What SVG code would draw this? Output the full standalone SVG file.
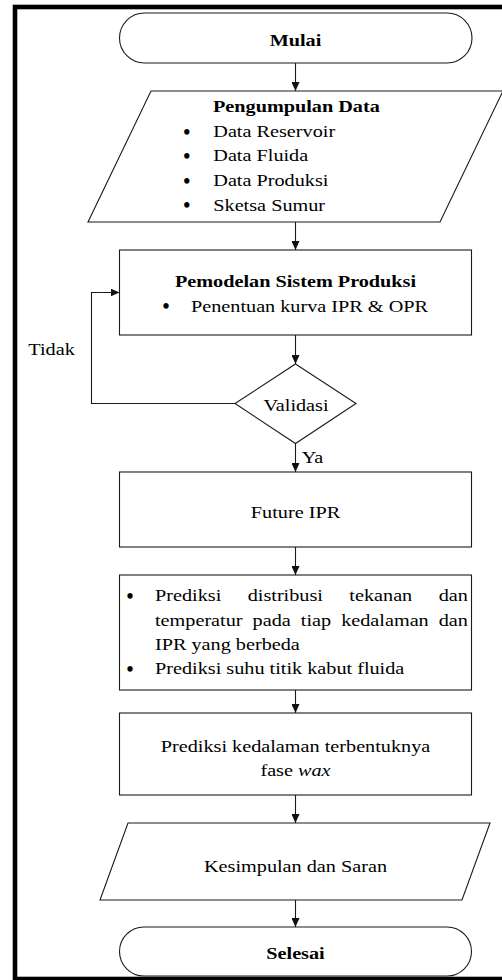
<svg xmlns="http://www.w3.org/2000/svg" width="502" height="980" viewBox="0 0 502 980">
<style>
.s{fill:#fff;stroke:#1a1a1a;stroke-width:1.1}
.c{fill:none;stroke:#1a1a1a;stroke-width:1.1}
text{font-family:'Liberation Serif','Times New Roman',serif;fill:#000}
.t{font-size:17px}
.b{font-weight:bold}
.m{text-anchor:middle}
.bu{font-size:20px;font-weight:bold;text-anchor:middle}
</style>
<defs>
<marker id="ah" markerUnits="userSpaceOnUse" markerWidth="9" markerHeight="8" refX="9" refY="4" orient="auto">
<path d="M0,0 L9,4 L0,8 z" fill="#111"/>
</marker>
</defs>
<rect x="15" y="7" width="495" height="972" fill="#fff" stroke="#000" stroke-width="4.6"/>

<g id="connectors">
<line class="c" x1="295.5" y1="63" x2="295.5" y2="91" marker-end="url(#ah)"/>
<line class="c" x1="295.5" y1="222" x2="295.5" y2="250" marker-end="url(#ah)"/>
<line class="c" x1="295.5" y1="335" x2="295.5" y2="364" marker-end="url(#ah)"/>
<line class="c" x1="295.5" y1="443.5" x2="295.5" y2="472" marker-end="url(#ah)"/>
<line class="c" x1="295.5" y1="547" x2="295.5" y2="575" marker-end="url(#ah)"/>
<line class="c" x1="295.5" y1="690" x2="295.5" y2="713" marker-end="url(#ah)"/>
<line class="c" x1="295.5" y1="795" x2="295.5" y2="823" marker-end="url(#ah)"/>
<line class="c" x1="295.5" y1="900" x2="295.5" y2="927" marker-end="url(#ah)"/>
<polyline class="c" points="235,403.5 91.5,403.5 91.5,292.5 119.5,292.5" marker-end="url(#ah)"/>
<text class="t" transform="translate(28.3,355) scale(1.19,1)">Tidak</text>
<text class="t" transform="translate(301.7,463) scale(1.19,1)">Ya</text>
</g>

<g id="mulai">
<rect class="s" x="119.5" y="13" width="352.5" height="50" rx="25" ry="25"/>
<text class="t b m" transform="translate(295.5,46) scale(1.19,1)">Mulai</text>
</g>

<g id="pengumpulan">
<polygon class="s" points="151,91 503,91 440,222 88,222"/>
<text class="t b" transform="translate(213,112) scale(1.19,1)">Pengumpulan Data</text>
<text class="bu" x="186.7" y="138.5">•</text>
<text class="t" transform="translate(213.3,136.7) scale(1.19,1)">Data Reservoir</text>
<text class="bu" x="186.7" y="163">•</text>
<text class="t" transform="translate(213.3,161.3) scale(1.19,1)">Data Fluida</text>
<text class="bu" x="186.7" y="187.7">•</text>
<text class="t" transform="translate(213.3,186) scale(1.19,1)">Data Produksi</text>
<text class="bu" x="186.7" y="212.4">•</text>
<text class="t" transform="translate(213.3,210.7) scale(1.19,1)">Sketsa Sumur</text>
</g>

<g id="pemodelan">
<rect class="s" x="119.5" y="250" width="352" height="85"/>
<text class="t b m" transform="translate(295.5,286.7) scale(1.19,1)">Pemodelan Sistem Produksi</text>
<text class="bu" x="166" y="313.4">•</text>
<text class="t" transform="translate(191,311.7) scale(1.19,1)">Penentuan kurva IPR &amp; OPR</text>
</g>

<g id="validasi">
<polygon class="s" points="295.5,364 356,403.5 295.5,443.5 235,403.5"/>
<text class="t m" transform="translate(296,411) scale(1.19,1)">Validasi</text>
</g>

<g id="future">
<rect class="s" x="119.5" y="472" width="352" height="75"/>
<text class="t m" transform="translate(295.5,518) scale(1.19,1)">Future IPR</text>
</g>

<g id="prediksi">
<rect class="s" x="119.5" y="575" width="352" height="115"/>
<text class="bu" x="130" y="602.7">•</text>
<text class="t" transform="translate(0,601) scale(1.19,1)"><tspan x="130.25">Prediksi</tspan><tspan x="208.15">distribusi</tspan><tspan x="293.6">tekanan</tspan><tspan x="368.65">dan</tspan></text>
<text class="t" transform="translate(0,625.5) scale(1.19,1)"><tspan x="130.25">temperatur</tspan><tspan x="212.3">pada</tspan><tspan x="252.8">tiap</tspan><tspan x="286.7">kedalaman</tspan><tspan x="368.7">dan</tspan></text>
<text class="t" transform="translate(155,650) scale(1.19,1)">IPR yang berbeda</text>
<text class="bu" x="130" y="675.9">•</text>
<text class="t" transform="translate(155,674.2) scale(1.19,1)">Prediksi suhu titik kabut fluida</text>
</g>

<g id="kedalaman">
<rect class="s" x="119.5" y="713" width="352" height="82"/>
<text class="t m" transform="translate(295.5,751.5) scale(1.19,1)">Prediksi kedalaman terbentuknya</text>
<text class="t m" transform="translate(295.5,776) scale(1.19,1)">fase <tspan font-style="italic">wax</tspan></text>
</g>

<g id="kesimpulan">
<polygon class="s" points="128,823 490,823 462,900 100,900"/>
<text class="t m" transform="translate(295.5,872) scale(1.19,1)">Kesimpulan dan Saran</text>
</g>

<g id="selesai">
<rect class="s" x="119.5" y="927" width="352" height="49" rx="24.5" ry="24.5"/>
<text class="t b m" transform="translate(295.5,959) scale(1.19,1)">Selesai</text>
</g>
</svg>
